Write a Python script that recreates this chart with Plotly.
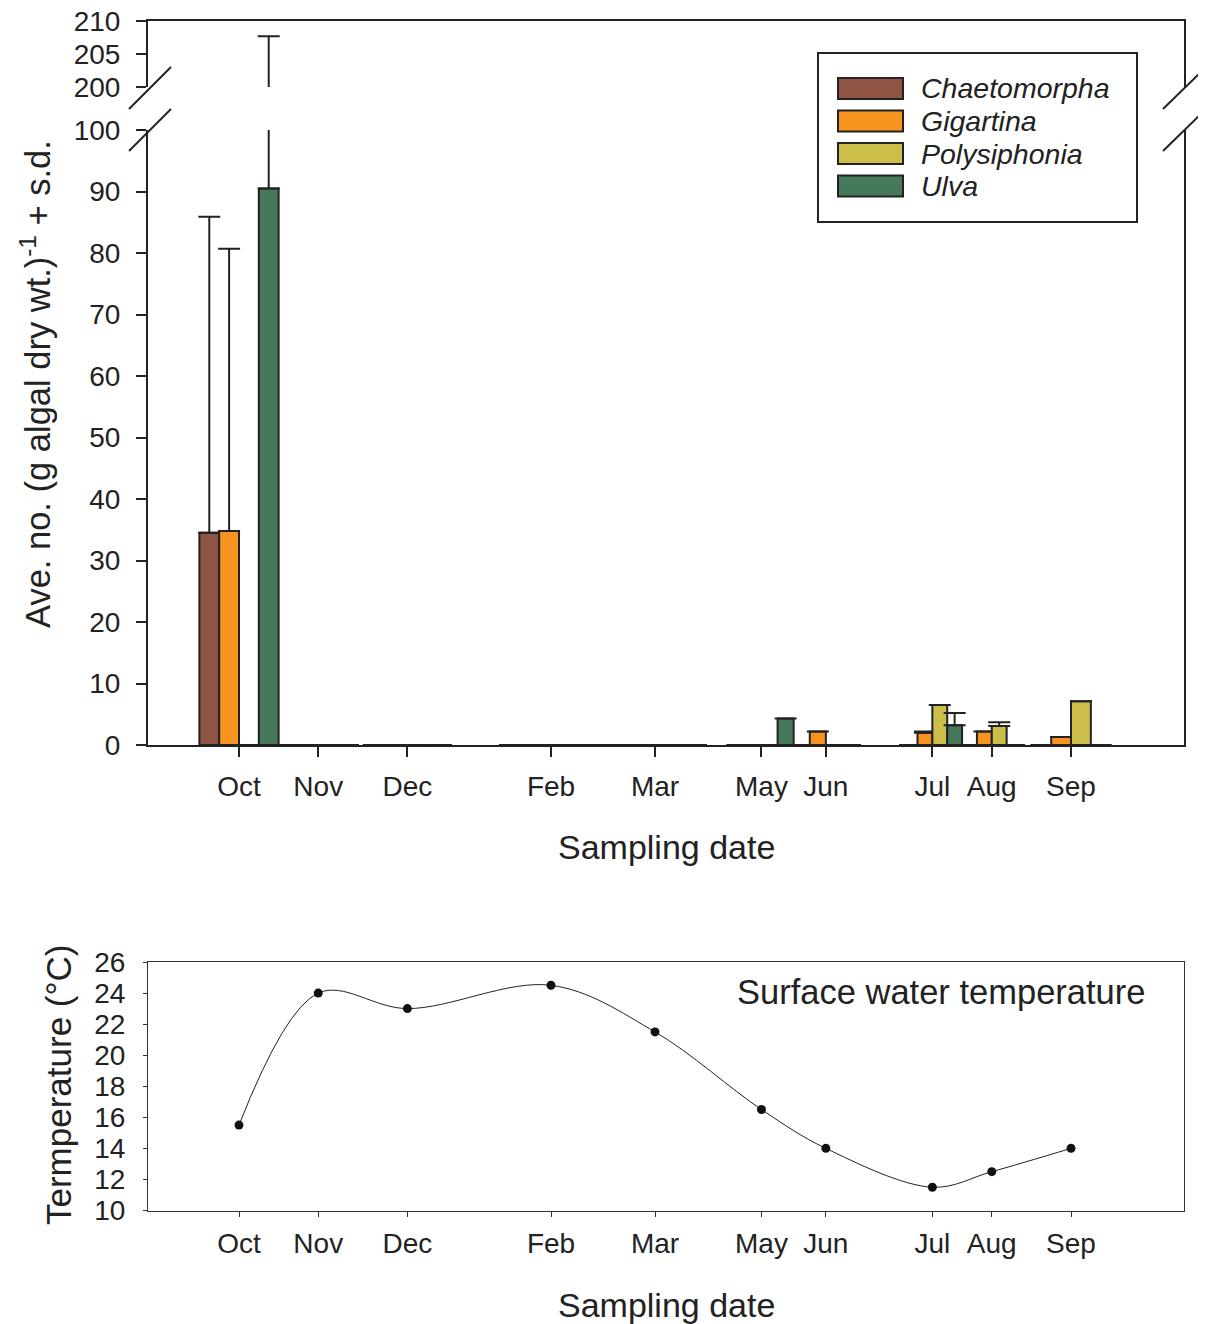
import plotly.graph_objects as go
import pandas as pd

# sampling dates (one per month label)
sample_dates = ["2006-10-10", "2006-11-11", "2006-12-17", "2007-02-13", "2007-03-27",
                "2007-05-09", "2007-06-04", "2007-07-17", "2007-08-10", "2007-09-11"]
month_labels = ["Oct", "Nov", "Dec", "Feb", "Mar", "May", "Jun", "Jul", "Aug", "Sep"]

species = ["Chaetomorpha", "Gigartina", "Polysiphonia", "Ulva"]
species_colors = ["#8f5443", "#f7941f", "#cbbf4a", "#46785a"]

chaetomorpha_mean = [34.5, 0, 0, 0, 0, 0, 0, 0, 0, 0]
chaetomorpha_sd = [51.4, None, None, None, None, None, None, None, None, None]
gigartina_mean = [34.8, 0, 0, 0, 0, 0, 2.2, 2.0, 2.2, 1.3]
gigartina_sd = [45.9, None, None, None, None, None, None, 0.2, None, None]
polysiphonia_mean = [0, 0, 0, 0, 0, 0, 0, 6.5, 3.1, 7.1]
polysiphonia_sd = [None, None, None, None, None, None, None, None, 0.6, None]
ulva_mean = [90.5, 0, 0, 0, 0, 4.3, 0, 3.2, 0, 0]
ulva_sd = [117.2, None, None, None, None, None, None, 2.0, None, None]

temperature = [15.5, 24.0, 23.0, 24.5, 21.5, 16.5, 14.0, 11.5, 12.5, 14.0]

means = [chaetomorpha_mean, gigartina_mean, polysiphonia_mean, ulva_mean]
sds = [chaetomorpha_sd, gigartina_sd, polysiphonia_sd, ulva_sd]

W, H = 1206, 1324
PAD = 8  # page body margin
INK = "#222222"
FONT = "Liberation Sans, Arial, sans-serif"


def px(x):
    return (x - PAD) / W


def py(y):
    return 1 - (y - PAD) / H


# group width = gap to the nearest neighbouring sampling date, split in 4 bars
ts = pd.to_datetime(sample_dates)
ms = [(t - ts[0]).total_seconds() * 1000 for t in ts]
group_w = []
for i in range(len(ms)):
    gaps = []
    if i > 0:
        gaps.append(ms[i] - ms[i - 1])
    if i < len(ms) - 1:
        gaps.append(ms[i + 1] - ms[i])
    group_w.append(min(gaps))
bar_w = [g / 4 for g in group_w]

fig = go.Figure()

# bars on lower (0-100) and upper (200-210) segments of the broken axis
for xa, ya in [("x", "y"), ("x2", "y2")]:
    for k, name in enumerate(species):
        fig.add_trace(go.Bar(
            x=sample_dates, y=means[k], name=name,
            width=bar_w, offset=[(k - 2) * w for w in bar_w],
            marker=dict(color=species_colors[k], line=dict(color=INK, width=2)),
            error_y=dict(type="data", symmetric=False, array=sds[k],
                         arrayminus=[0] * len(sds[k]), color=INK, thickness=2, width=11),
            xaxis=xa, yaxis=ya, showlegend=False
        ))

# temperature curve
fig.add_trace(go.Scatter(
    x=sample_dates, y=temperature, mode="lines+markers",
    line=dict(color=INK, width=1, shape="spline", smoothing=1),
    marker=dict(color="#111111", size=9),
    xaxis="x3", yaxis="y3", showlegend=False
))

x_dom = [px(148), px(1184)]
x_range = ["2006-09-03 06:00", "2007-10-26 15:00"]
tickfont = dict(family=FONT, size=28, color=INK)

common_x = dict(range=x_range, domain=x_dom, tickvals=sample_dates, ticktext=month_labels,
                showgrid=False, zeroline=False, tickfont=tickfont, automargin=False)
common_y = dict(showgrid=False, zeroline=False, tickfont=tickfont, automargin=False,
                showline=True, mirror=True, ticklabeloverflow="allow")

fig.update_layout(
    width=W, height=H,
    margin=dict(l=0, r=0, t=0, b=0, autoexpand=False),
    paper_bgcolor="white", plot_bgcolor="white",
    barmode="overlay",
    font=dict(family=FONT, color=INK),
    xaxis=dict(**common_x, anchor="y", showline=True, linecolor=INK, linewidth=2,
               ticks="outside", ticklen=10, tickwidth=2, tickcolor=INK,
               ticklabelstandoff=5),
    yaxis=dict(**common_y, domain=[py(745), py(130)], range=[0, 100], anchor="x",
               tickvals=list(range(0, 101, 10)), linecolor=INK, linewidth=2,
               ticks="outside", ticklen=10, tickwidth=2, tickcolor=INK,
               ticklabelstandoff=10),
    xaxis2=dict(**common_x, anchor="y2", side="top", showline=True, linecolor=INK,
                linewidth=2, showticklabels=False, ticks=""),
    yaxis2=dict(**common_y, domain=[py(87), py(21)], range=[200, 210], anchor="x2",
                tickvals=[200, 205, 210], linecolor=INK, linewidth=2,
                ticks="outside", ticklen=10, tickwidth=2, tickcolor=INK,
                ticklabelstandoff=10),
    xaxis3=dict(**common_x, anchor="y3", showline=True, mirror=True, linecolor="#333333",
                linewidth=1, ticks="outside", ticklen=5, tickwidth=1, tickcolor="#333333",
                ticklabelstandoff=3),
    yaxis3=dict(**common_y, domain=[py(1210.5), py(962)], range=[10, 26], anchor="x3",
                tickvals=list(range(10, 27, 2)), linecolor="#333333", linewidth=1,
                ticks="outside", ticklen=4, tickwidth=1, tickcolor="#333333",
                ticklabelstandoff=12),
)

# axis titles and panel label
ann = [
    dict(text="Sampling date", x=666, y=847, size=34, angle=0),
    dict(text="Sampling date", x=666, y=1305, size=34, angle=0),
    dict(text="Ave. no. (g algal dry wt.)<sup>-1</sup> + s.d.", x=35, y=384, size=34.5, angle=-90),
    dict(text="Termperature (°C)", x=58, y=1085, size=35, angle=-90),
]
for a in ann:
    fig.add_annotation(text=a["text"], x=px(a["x"]), y=py(a["y"]), xref="paper", yref="paper",
                       showarrow=False, textangle=a["angle"], xanchor="center",
                       yanchor="middle", font=dict(family=FONT, size=a["size"], color=INK))

fig.add_annotation(text="Surface water temperature", x=px(1147), y=py(992),
                   xref="paper", yref="paper", showarrow=False, xanchor="right",
                   yanchor="middle", font=dict(family=FONT, size=34.5, color=INK))

# legend box drawn by hand (wide swatches as in the original)
fig.add_shape(type="rect", xref="paper", yref="paper", x0=px(818), x1=px(1137),
              y0=py(222), y1=py(53), line=dict(color=INK, width=2), fillcolor="white")
for k, name in enumerate(species):
    top = 78 + 32.5 * k
    fig.add_shape(type="rect", xref="paper", yref="paper", x0=px(838), x1=px(903),
                  y0=py(top + 21), y1=py(top), fillcolor=species_colors[k],
                  line=dict(color=INK, width=2))
    fig.add_annotation(text="<i>%s</i>" % name, x=px(919), y=py(top + 10.5), xref="paper",
                       yref="paper", showarrow=False, xanchor="left", yanchor="middle",
                       font=dict(family=FONT, size=28.5, color=INK))

# axis break marks
for x0, x1 in [(129, 171), (1163, 1206)]:
    for yb in [109, 151]:
        fig.add_shape(type="line", xref="paper", yref="paper", x0=px(x0), x1=px(x1),
                      y0=py(yb), y1=py(yb - 42), line=dict(color=INK, width=2))

fig.write_html("out.html")
